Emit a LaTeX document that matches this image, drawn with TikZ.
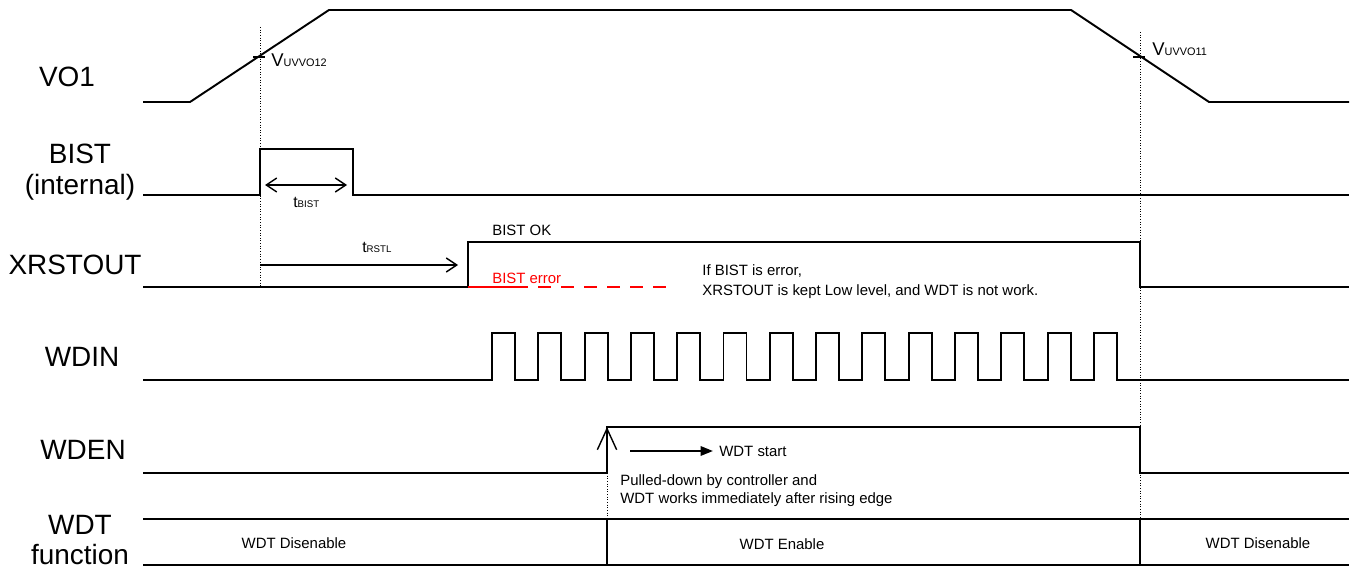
\documentclass[tikz,border=0pt]{standalone}
\usepackage{fontspec}
\setmainfont{Liberation Sans}
\usetikzlibrary{arrows.meta}
\begin{document}
\begin{tikzpicture}[x=0.02cm, y=-0.02cm,
  sig/.style={line width=1.1pt},
  guide/.style={densely dotted, line width=0.5pt},
  big/.style={font=\fontsize{15.9}{17.5}\selectfont, align=center, inner sep=0pt},
  small/.style={font=\fontsize{8.5}{10.5}\selectfont, align=left, inner sep=0pt},
  barb/.style={{Straight Barb[length=6pt, width=8pt]}-{Straight Barb[length=6pt, width=8pt]}, line width=0.8pt}]
\useasboundingbox (0,0) rectangle (1359,574);
\node[big] (vo1) at (67,77) {VO1};
\node[big] (bist) at (80,172) {BIST\\(internal)};
\node[big] (xrst) at (75,265) {XRSTOUT};
\node[big] (wdin) at (82,357) {WDIN};
\node[big] (wden) at (83,450) {WDEN};
\node[big] (wdtf) at (80,540) {WDT\\function};
\draw[guide] (260,27) -- (260,287);
\draw[guide] (1140,32) -- (1140,519);
\draw[guide] (607,473) -- (607,519);
\draw[sig] (143,102) -- (190,102) -- (329,10) -- (1071,10) -- (1209,102) -- (1349,102);
\draw[line width=0.6pt] (253,57) -- (265,57);
\draw[line width=0.6pt] (1133,57) -- (1145,57);
\node[anchor=base west, inner sep=0pt] (uvlo2) at (271,67) {\fontsize{10.5}{12}\selectfont V\fontsize{6.2}{7}\selectfont UVVO12};
\node[anchor=base west, inner sep=0pt] (uvlo1) at (1152,56) {\fontsize{10.5}{12}\selectfont V\fontsize{6.2}{7}\selectfont UVVO11};
\draw[sig] (143,195) -- (260,195) -- (260,149) -- (353,149) -- (353,195) -- (1349,195);
\coordinate (tbistL) at (265,185);
\coordinate (tbistR) at (347,185);
\draw[barb] (tbistL) -- (tbistR);
\node[anchor=base west, inner sep=0pt] (tbist) at (293,208) {\fontsize{9}{10}\selectfont t\fontsize{5.5}{6}\selectfont BIST};
\draw[sig] (143,287) -- (468,287) -- (468,242) -- (1140,242) -- (1140,287) -- (1349,287);
\draw[red, line width=1pt] (468,287) -- (528,287);
\draw[red, line width=1pt, dash pattern=on 7.4pt off 5.7pt] (538,287) -- (667,287);
\coordinate (trstlL) at (260,265);
\coordinate (trstlR) at (458,265);
\draw[-{Straight Barb[length=6pt, width=8pt]}, line width=0.8pt] (trstlL) -- (trstlR);
\node[anchor=base west, inner sep=0pt] (trstl) at (362,253) {\fontsize{9}{10}\selectfont t\fontsize{5.5}{6}\selectfont RSTL};
\node[small, anchor=west] (bistok) at (492,230) {BIST OK};
\node[small, anchor=west, text=red] (bisterr) at (492,278) {BIST error};
\node[small, anchor=west, align=left, font=\fontsize{8.5}{11.3}\selectfont] (errnote) at (702,282) {If BIST is error,\\XRSTOUT is kept Low level, and WDT is not work.};
\draw[sig] (143,380) foreach \i in {0,...,13} { -- ({492+46.3*\i},380) -- ++(0,-47) -- ++(23,0) -- ++(0,47) } -- (1349,380);
\draw[sig] (143,473) -- (607,473) -- (607,427) -- (1140,427) -- (1140,473) -- (1349,473);
\coordinate (wdenLo) at (607,473);
\coordinate (wdenHi) at (607,427);
\draw[-{Straight Barb[length=12pt, width=11pt]}, line width=0.8pt] (wdenLo) -- (wdenHi);
\node[small, anchor=west] (wdtstart) at (719,451) {WDT start};
\coordinate (startL) at (630,451);
\draw[-{Triangle[length=7pt, width=5.5pt]}, line width=0.8pt, shorten >=3.5pt] (startL) -- (wdtstart.west);
\node[small, anchor=west, font=\fontsize{8.5}{10.2}\selectfont] (pulled) at (620,491) {Pulled-down by controller and\\WDT works immediately after rising edge};
\draw[sig] (143,519) -- (1349,519);
\draw[sig] (143,565) -- (1349,565);
\draw[sig] (607,519) -- (607,565);
\draw[sig] (1140,519) -- (1140,565);
\node[small] (dis1) at (294,543) {WDT Disenable};
\node[small] (enab) at (782,544) {WDT Enable};
\node[small] (dis2) at (1258,543) {WDT Disenable};
\end{tikzpicture}
\end{document}
